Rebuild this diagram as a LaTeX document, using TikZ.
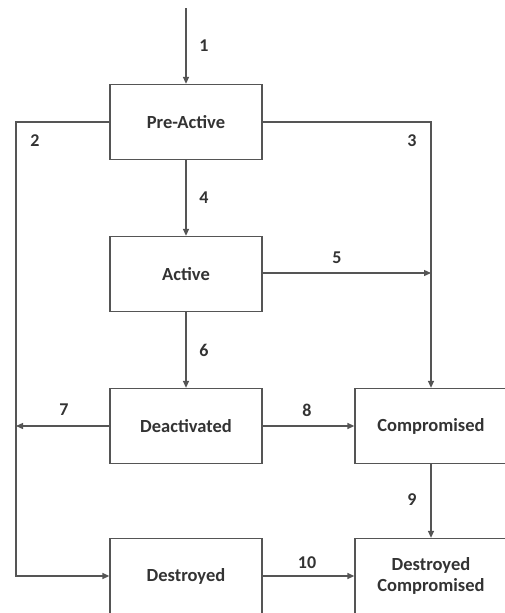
\documentclass[tikz,border=0pt]{standalone}
\usepackage{fontspec}
\setmainfont{Carlito}
\usetikzlibrary{arrows.meta}
\definecolor{linec}{HTML}{555555}
\definecolor{textc}{HTML}{333333}
\begin{document}
\begin{tikzpicture}[x=1pt,y=-1pt,
  statebox/.style={draw=linec, line width=1.3pt, minimum width=152pt, minimum height=75pt, inner sep=0pt, align=center, text=textc, font=\fontsize{18.5}{21}\selectfont\bfseries},
  conn/.style={draw=linec, line width=1.3pt},
  arr/.style={conn, -{Triangle[length=7pt,width=6pt]}},
  lab/.style={text=textc, font=\fontsize{18}{21}\selectfont\bfseries, inner sep=0pt}]
\useasboundingbox (0,0) rectangle (505,613);
\node[statebox] (pre) at (186,122) {Pre-Active};
\node[statebox] (act) at (186,274) {Active};
\node[statebox] (deact) at (186,426) {Deactivated};
\node[statebox] (comp) at (431,426) {Compromised};
\node[statebox] (destr) at (186,576) {Destroyed};
\node[statebox] (dcomp) at (431,576) {Destroyed\\Compromised};
\coordinate (start) at (186,8);
\coordinate (c2a) at (16,122);
\coordinate (c2b) at (16,576);
\coordinate (c3) at (431,122);
\coordinate (c5) at (431,273);
\coordinate (c7) at (16,426);
\draw[arr] (start) -- (pre.north);
\draw[arr] (pre.west) -- (c2a) -- (c2b) -- (destr.west);
\draw[arr] (pre.east) -- (c3) -- (comp.north);
\draw[arr] (pre.south) -- (act.north);
\draw[arr] (act.east |- c5) -- (c5);
\draw[arr] (act.south) -- (deact.north);
\draw[arr] (deact.west) -- (c7);
\draw[arr] (deact.east) -- (comp.west);
\draw[arr] (comp.south) -- (dcomp.north);
\draw[arr] (destr.east) -- (dcomp.west);
\node[lab] (l1) at (204,46) {1};
\node[lab] (l2) at (35,141) {2};
\node[lab] (l3) at (412,141) {3};
\node[lab] (l4) at (204,198) {4};
\node[lab] (l5) at (337,258) {5};
\node[lab] (l6) at (204,350) {6};
\node[lab] (l7) at (64,410) {7};
\node[lab] (l8) at (307,410) {8};
\node[lab] (l9) at (412,500) {9};
\node[lab] (l10) at (307,563) {10};
\end{tikzpicture}
\end{document}
